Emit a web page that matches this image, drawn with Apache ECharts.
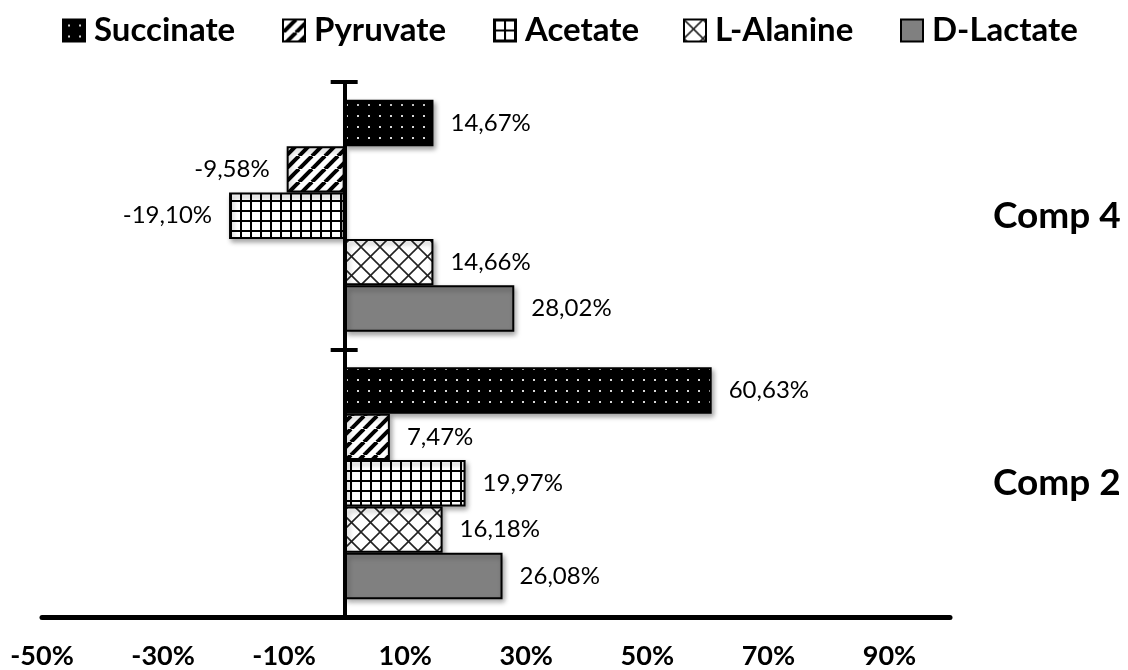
<!DOCTYPE html>
<html><head><meta charset="utf-8">
<script src="https://cdn.jsdelivr.net/npm/echarts@6/dist/echarts.min.js"></script>
<style>html,body{margin:0;padding:0;background:#fff}#c{width:1128px;height:670px}</style>
</head><body><div id="c"></div>
<script>
// ---- data ----
const categories = ['Comp 2', 'Comp 4'];
const seriesNames = ['Succinate', 'Pyruvate', 'Acetate', 'L-Alanine', 'D-Lactate'];
const succinate = [60.63, 14.67];
const pyruvate = [7.47, -9.58];
const acetate = [19.97, -19.10];
const lAlanine = [16.18, 14.66];
const dLactate = [26.08, 28.02];
const xMin = -50, xMax = 100, xStep = 20;

// ---- patterns ----
function makeCanvas(w, h, draw) {
  const c = document.createElement('canvas'); c.width = w; c.height = h;
  draw(c.getContext('2d'), w, h); return c;
}
const patSuccinate = makeCanvas(11, 11, (g, w, h) => {
  g.fillStyle = '#000'; g.fillRect(0, 0, w, h);
  g.fillStyle = '#d8d8d8'; g.fillRect(5, 5, 2, 2);
});
const patPyruvate = makeCanvas(13, 13, (g, s) => {
  g.fillStyle = '#fff'; g.fillRect(0, 0, s, s);
  g.strokeStyle = '#000'; g.lineWidth = 4;
  for (let k = -1; k <= 1; k++) { g.beginPath(); g.moveTo(k * s, s); g.lineTo(k * s + s, 0); g.stroke(); }
});
const patAcetate = makeCanvas(10, 10, (g, w, h) => {
  g.fillStyle = '#fff'; g.fillRect(0, 0, w, h);
  g.fillStyle = '#000'; g.fillRect(0, 0, 2, h); g.fillRect(0, 0, w, 2);
});
const patAlanine = makeCanvas(19, 19, (g, s) => {
  g.fillStyle = '#fff'; g.fillRect(0, 0, s, s);
  g.strokeStyle = '#222'; g.lineWidth = 1.6;
  g.beginPath(); g.moveTo(0, 0); g.lineTo(s, s); g.stroke();
  g.beginPath(); g.moveTo(0, s); g.lineTo(s, 0); g.stroke();
});
const fills = [
  { image: patSuccinate, repeat: 'repeat' },
  { image: patPyruvate, repeat: 'repeat' },
  { image: patAcetate, repeat: 'repeat' },
  { image: patAlanine, repeat: 'repeat' },
  '#808080'
];
const values = [succinate, pyruvate, acetate, lAlanine, dLactate];
const legendLefts = [62, 282, 493, 683, 900];

const fmt = v => v.toFixed(2).replace('.', ',') + '%';
const chart = echarts.init(document.getElementById('c'), null, { renderer: 'canvas' });
chart.setOption({
  animation: false,
  backgroundColor: '#fff',
  textStyle: { fontFamily: 'Lato' },
  legend: seriesNames.map((n, i) => ({
    data: [n], left: legendLefts[i], top: 14, padding: 0, icon: 'rect', itemWidth: 22, itemHeight: 22,
    itemStyle: { shadowBlur: 0, shadowOffsetX: 0, shadowOffsetY: 0, borderWidth: 2, borderColor: '#000' },
    textStyle: { fontSize: 33, fontWeight: 'bold', color: '#000', fontFamily: 'Lato', padding: [0, 0, 0, 4] }
  })),
  grid: { left: 42, right: 178, top: 82, bottom: 53, outerBoundsMode: 'none' },
  xAxis: {
    type: 'value', min: xMin, max: xMax, interval: xStep,
    axisLine: { show: true, onZero: false, lineStyle: { color: '#000', width: 5 } },
    axisTick: { show: false }, splitLine: { show: false },
    axisLabel: { formatter: '{value}%', showMaxLabel: false, margin: 26, fontSize: 27, fontWeight: 'bold', color: '#000', fontFamily: 'Lato' }
  },
  yAxis: [
    { type: 'category', data: categories, position: 'left', z: 10,
      axisLine: { onZero: true, onZeroAxisIndex: 0, lineStyle: { color: '#000', width: 4 } },
      axisTick: { show: true, length: 14, lineStyle: { color: '#000', width: 4 } },
      axisLabel: { show: false }, splitLine: { show: false } },
    { type: 'category', data: categories, position: 'right', z: 10,
      axisLine: { onZero: true, onZeroAxisIndex: 0, lineStyle: { color: '#000', width: 4 } },
      axisTick: { show: true, length: 13, lineStyle: { color: '#000', width: 4 } },
      axisLabel: { show: false }, splitLine: { show: false } },
    { type: 'category', data: categories, position: 'right',
      axisLine: { show: false, onZero: false }, axisTick: { show: false }, splitLine: { show: false },
      axisLabel: { margin: 43, align: 'left', fontSize: 37, fontWeight: 'bold', color: '#000', fontFamily: 'Lato' } }
  ],
  series: seriesNames.map((name, i) => ({
    name, type: 'bar', data: values[i], barGap: '0%', barCategoryGap: '13.3%',
    itemStyle: { color: fills[i], borderColor: '#000', borderWidth: 2,
      shadowColor: 'rgba(0,0,0,0.35)', shadowBlur: 5, shadowOffsetX: 2, shadowOffsetY: 3 },
    label: { show: true, position: 'outside', distance: 17, formatter: p => fmt(p.value),
      color: '#000', fontSize: 24, fontFamily: 'Lato' }
  }))
});
</script></body></html>
